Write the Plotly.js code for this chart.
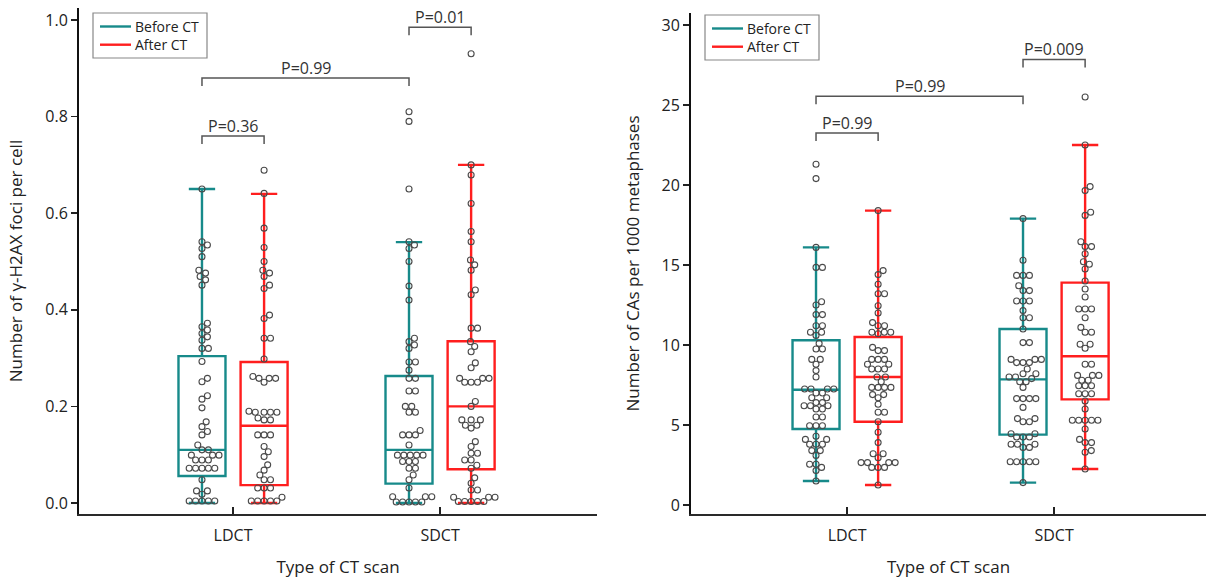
<!DOCTYPE html>
<html>
<head>
<meta charset="utf-8">
<script src="https://cdn.plot.ly/plotly-3.0.1.min.js"></script>
<style>html,body{margin:0;padding:0;background:#fff}#chart{width:1208px;height:583px}</style>
</head>
<body>
<div id="chart"></div>
<script>
// ---------------- DATA ----------------
const categories = ['LDCT', 'SDCT'];
const seriesNames = ['Before CT', 'After CT'];

// Left panel: γ-H2AX foci per cell (box statistics, per category LDCT, SDCT)
const gammaBeforeQ1 = [0.056, 0.040];
const gammaBeforeMedian = [0.110, 0.110];
const gammaBeforeQ3 = [0.304, 0.263];
const gammaBeforeLower = [0.0, 0.0];
const gammaBeforeUpper = [0.650, 0.540];
const gammaAfterQ1 = [0.037, 0.070];
const gammaAfterMedian = [0.160, 0.200];
const gammaAfterQ3 = [0.292, 0.335];
const gammaAfterLower = [0.0, 0.0];
const gammaAfterUpper = [0.640, 0.700];

// Left panel individual values
const gammaLdctBefore = [0.65, 0.541, 0.534, 0.527, 0.51, 0.482, 0.476, 0.469, 0.462, 0.451,
  0.372, 0.365, 0.358, 0.351, 0.344, 0.337, 0.32, 0.32, 0.293, 0.258, 0.251, 0.222, 0.215,
  0.197, 0.168, 0.158, 0.148, 0.141, 0.12, 0.11, 0.11, 0.099, 0.099, 0.099, 0.089, 0.089, 0.089,
  0.072, 0.072, 0.072, 0.072, 0.072, 0.048, 0.025, 0.025, 0.018, 0.004, 0.004, 0.004, 0.004, 0.004];
const gammaLdctAfter = [0.689, 0.641, 0.569, 0.529, 0.5, 0.482, 0.476, 0.469, 0.451, 0.444,
  0.389, 0.382, 0.341, 0.341, 0.298, 0.262, 0.258, 0.258, 0.258, 0.25, 0.19, 0.188, 0.188, 0.188,
  0.188, 0.176, 0.172, 0.172, 0.141, 0.141, 0.141, 0.117, 0.106, 0.096, 0.079, 0.068, 0.058,
  0.048, 0.048, 0.031, 0.031, 0.031, 0.012, 0.004, 0.004, 0.004, 0.004, 0.004];
const gammaSdctBefore = [0.81, 0.79, 0.65, 0.541, 0.534, 0.527, 0.5, 0.449, 0.42, 0.341, 0.334,
  0.327, 0.32, 0.292, 0.292, 0.275, 0.258, 0.258, 0.232, 0.232, 0.2, 0.2, 0.188, 0.188, 0.15,
  0.141, 0.141, 0.141, 0.12, 0.099, 0.099, 0.099, 0.099, 0.099, 0.086, 0.086, 0.086, 0.072,
  0.072, 0.058, 0.048, 0.031, 0.013, 0.013, 0.013, 0.002, 0.002, 0.002, 0.002, 0.002];
const gammaSdctAfter = [0.93, 0.70, 0.679, 0.62, 0.562, 0.541, 0.503, 0.493, 0.482, 0.441, 0.431,
  0.362, 0.362, 0.334, 0.324, 0.313, 0.29, 0.28, 0.258, 0.258, 0.258, 0.25, 0.25, 0.25, 0.21,
  0.2, 0.172, 0.172, 0.172, 0.161, 0.161, 0.155, 0.127, 0.117, 0.103, 0.103, 0.089, 0.089,
  0.078, 0.072, 0.052, 0.041, 0.027, 0.027, 0.012, 0.012, 0.012, 0.003, 0.003, 0.003, 0.003, 0.003];

// Right panel: CAs per 1000 metaphases (box statistics, per category LDCT, SDCT)
const caBeforeQ1 = [4.75, 4.4];
const caBeforeMedian = [7.2, 7.85];
const caBeforeQ3 = [10.3, 11.0];
const caBeforeLower = [1.5, 1.4];
const caBeforeUpper = [16.1, 17.9];
const caAfterQ1 = [5.2, 6.6];
const caAfterMedian = [8.0, 9.3];
const caAfterQ3 = [10.5, 13.9];
const caAfterLower = [1.25, 2.25];
const caAfterUpper = [18.4, 22.5];

// Right panel individual values
const caLdctBefore = [21.3, 20.4, 16.1, 14.85, 14.85, 12.7, 12.5, 11.9, 11.9, 11.2, 11.2, 10.8,
  10.8, 10.6, 10.1, 9.75, 9.75, 9.1, 9.1, 8.8, 8.4, 8.0, 7.25, 7.25, 7.25, 7.25, 7.0, 7.0, 6.7,
  6.7, 6.4, 6.4, 6.2, 6.2, 6.2, 6.0, 6.0, 5.5, 5.5, 4.95, 4.95, 4.95, 4.3, 4.1, 4.1, 3.8, 3.8,
  3.8, 3.4, 3.4, 3.1, 2.55, 2.55, 2.35, 2.15, 1.5];
const caLdctAfter = [18.4, 14.65, 14.4, 13.8, 13.2, 13.2, 12.45, 12.0, 11.4, 11.2, 11.2, 10.8,
  10.8, 10.8, 10.7, 9.85, 9.65, 9.65, 9.1, 9.1, 9.1, 8.8, 8.8, 8.5, 8.5, 8.5, 8.0, 8.0, 7.7,
  7.35, 7.35, 7.35, 7.35, 6.9, 6.9, 6.7, 6.3, 5.8, 5.8, 5.2, 4.55, 3.9, 3.2, 3.2, 2.95, 2.65,
  2.65, 2.65, 2.65, 2.35, 2.35, 2.35, 1.25];
const caSdctBefore = [17.9, 15.3, 14.35, 14.35, 14.35, 13.7, 13.4, 13.4, 12.75, 12.75, 12.75,
  12.15, 11.7, 11.7, 11.0, 10.15, 10.15, 9.1, 9.1, 9.1, 8.9, 8.9, 8.9, 8.5, 8.2, 8.2, 8.0, 8.0,
  7.9, 7.7, 7.7, 7.35, 6.65, 6.65, 6.65, 6.65, 6.1, 5.4, 5.4, 5.2, 5.2, 4.45, 4.45, 4.25, 4.25,
  4.25, 3.8, 3.8, 3.8, 3.6, 3.6, 2.7, 2.7, 2.7, 2.7, 2.7, 1.4];
const caSdctAfter = [25.5, 22.5, 19.9, 19.65, 18.3, 18.1, 16.45, 16.15, 16.15, 15.7, 15.2, 15.05,
  14.75, 14.0, 13.5, 13.0, 12.25, 12.25, 12.25, 11.7, 11.1, 10.8, 10.8, 10.05, 10.05, 9.8, 8.8,
  8.8, 8.1, 8.1, 8.1, 7.8, 7.8, 7.45, 7.45, 7.45, 6.95, 6.95, 6.95, 6.5, 6.0, 5.3, 5.3, 5.3,
  5.3, 5.3, 4.75, 4.1, 3.9, 3.9, 3.4, 3.3, 2.25];

// Significance brackets: [category, series] endpoints, level and label
const gammaBracketLabels = ['P=0.36', 'P=0.99', 'P=0.01'];
const gammaBracketStart = [[0, 0], [0, 0], [1, 0]];
const gammaBracketEnd = [[0, 1], [1, 0], [1, 1]];
const gammaBracketLevels = [0.760, 0.880, 0.985];
const caBracketLabels = ['P=0.99', 'P=0.99', 'P=0.009'];
const caBracketStart = [[0, 0], [0, 0], [1, 0]];
const caBracketEnd = [[0, 1], [1, 0], [1, 1]];
const caBracketLevels = [23.25, 25.55, 27.85];

const gammaYTicks = [0, 0.2, 0.4, 0.6, 0.8, 1.0];
const caYTicks = [0, 5, 10, 15, 20, 25, 30];

// ---------------- LAYOUT CONSTANTS ----------------
const W = 1208, H = 583;
const MARGIN = {l: 79, r: 2, t: 8, b: 69};
const PW = W - MARGIN.l - MARGIN.r;
const PH = H - MARGIN.t - MARGIN.b;
const X1_DOMAIN = [0, 518 / PW];
const X2_DOMAIN = [612 / PW, 1];
const X1_RANGE = [-0.744, 1.758];
const X2_RANGE = [-0.754, 1.734];
const Y1_DOMAIN = [0, 1];
const Y2_DOMAIN = [0, 501 / 506];
const Y1_RANGE = [-0.0228, 1.0248];
const Y2_RANGE = [-0.5625, 30.75];
const OFFSET = 0.15;
const BOX_W = 0.227;
const TEAL = '#178a8a';
const RED = '#ff1e1e';
const DOT = '#4a4a4a';
const FONT = 'Open Sans, Noto Sans, sans-serif';
const DOT_SIZE = 6;
const SWARM_D = 6.4;
const SERIES_COLORS = [TEAL, RED];

function pxPer(range, domain, len) {
  return (domain[1] - domain[0]) * len / (range[1] - range[0]);
}
const px1x = pxPer(X1_RANGE, X1_DOMAIN, PW), px1y = pxPer(Y1_RANGE, Y1_DOMAIN, PH);
const px2x = pxPer(X2_RANGE, X2_DOMAIN, PW), px2y = pxPer(Y2_RANGE, Y2_DOMAIN, PH);

function pos(ci, si) { return ci + (si === 0 ? -OFFSET : OFFSET); }

function swarm(values, center, pxX, pxY, d) {
  const idx = values.map((v, i) => i).sort((a, b) => values[a] - values[b]);
  const placed = [];
  const xs = new Array(values.length);
  for (const i of idx) {
    const y = values[i] * pxY;
    const near = placed.filter(p => Math.abs(p.y - y) < d);
    const cands = [0];
    near.forEach(p => {
      const dx = Math.sqrt(Math.max(0, d * d - (p.y - y) * (p.y - y)));
      cands.push(p.x + dx, p.x - dx);
    });
    cands.sort((a, b) => Math.abs(a) - Math.abs(b));
    let best = 0;
    for (const c of cands) {
      if (near.every(p => (p.x - c) * (p.x - c) + (p.y - y) * (p.y - y) >= d * d - 1e-6)) { best = c; break; }
    }
    placed.push({x: best, y: y});
    xs[i] = center + best / pxX;
  }
  return xs;
}

function boxTrace(xa, ya, si, q1, med, q3, lo, hi) {
  return {
    type: 'box', xaxis: xa, yaxis: ya,
    x: categories.map((c, ci) => pos(ci, si)),
    q1: q1, median: med, q3: q3, lowerfence: lo, upperfence: hi,
    width: BOX_W, whiskerwidth: 0.56, boxpoints: false,
    fillcolor: 'rgba(0,0,0,0)',
    line: {color: SERIES_COLORS[si], width: 2.4},
    showlegend: false, hoverinfo: 'skip', name: seriesNames[si]
  };
}

function dotTrace(xa, ya, values, ci, si, pxX, pxY) {
  return {
    type: 'scatter', mode: 'markers', xaxis: xa, yaxis: ya,
    x: swarm(values, pos(ci, si), pxX, pxY, SWARM_D), y: values,
    marker: {symbol: 'circle-open', size: DOT_SIZE, color: DOT, line: {width: 1.1, color: DOT}},
    showlegend: false, hoverinfo: 'skip'
  };
}

const traces = [
  boxTrace('x', 'y', 0, gammaBeforeQ1, gammaBeforeMedian, gammaBeforeQ3, gammaBeforeLower, gammaBeforeUpper),
  boxTrace('x', 'y', 1, gammaAfterQ1, gammaAfterMedian, gammaAfterQ3, gammaAfterLower, gammaAfterUpper),
  boxTrace('x2', 'y2', 0, caBeforeQ1, caBeforeMedian, caBeforeQ3, caBeforeLower, caBeforeUpper),
  boxTrace('x2', 'y2', 1, caAfterQ1, caAfterMedian, caAfterQ3, caAfterLower, caAfterUpper),
  dotTrace('x', 'y', gammaLdctBefore, 0, 0, px1x, px1y),
  dotTrace('x', 'y', gammaLdctAfter, 0, 1, px1x, px1y),
  dotTrace('x', 'y', gammaSdctBefore, 1, 0, px1x, px1y),
  dotTrace('x', 'y', gammaSdctAfter, 1, 1, px1x, px1y),
  dotTrace('x2', 'y2', caLdctBefore, 0, 0, px2x, px2y),
  dotTrace('x2', 'y2', caLdctAfter, 0, 1, px2x, px2y),
  dotTrace('x2', 'y2', caSdctBefore, 1, 0, px2x, px2y),
  dotTrace('x2', 'y2', caSdctAfter, 1, 1, px2x, px2y)
];

const shapes = [], annotations = [];
function addBrackets(xr, yr, labels, starts, ends, levels, pxY) {
  const leg = 8 / pxY;
  labels.forEach((lab, i) => {
    const xa = pos(starts[i][0], starts[i][1]);
    const xb = pos(ends[i][0], ends[i][1]);
    const lv = levels[i];
    shapes.push({
      type: 'path', xref: xr, yref: yr,
      path: `M ${xa},${lv - leg} L ${xa},${lv} L ${xb},${lv} L ${xb},${lv - leg}`,
      line: {color: '#555', width: 1.5}
    });
    annotations.push({
      xref: xr, yref: yr, x: (xa + xb) / 2, y: lv, yanchor: 'bottom', yshift: -3,
      text: lab, showarrow: false, font: {family: FONT, size: 16, color: '#333'}
    });
  });
}
addBrackets('x', 'y', gammaBracketLabels, gammaBracketStart, gammaBracketEnd, gammaBracketLevels, px1y);
addBrackets('x2', 'y2', caBracketLabels, caBracketStart, caBracketEnd, caBracketLevels, px2y);

// Legend key drawn as a framed box (pixel placement converted to paper coords)
function px2paperX(px) { return (px - MARGIN.l) / PW; }
function px2paperY(py) { return 1 - (py - MARGIN.t) / PH; }
function addLegend(left, top) {
  const ROW1 = 13.5, ROW_GAP = 18.2;
  shapes.push({
    type: 'rect', xref: 'paper', yref: 'paper',
    x0: px2paperX(left), x1: px2paperX(left + 114), y0: px2paperY(top), y1: px2paperY(top + 45),
    line: {color: '#888', width: 1.2}, fillcolor: '#fff', layer: 'above'
  });
  seriesNames.forEach((nm, si) => {
    const ry = top + ROW1 + si * ROW_GAP;
    shapes.push({
      type: 'line', xref: 'paper', yref: 'paper',
      x0: px2paperX(left + 7), x1: px2paperX(left + 38), y0: px2paperY(ry), y1: px2paperY(ry),
      line: {color: SERIES_COLORS[si], width: 2.4}, layer: 'above'
    });
  });
  annotations.push({
    xref: 'paper', yref: 'paper', x: px2paperX(left + 41), y: px2paperY(top + ROW1 + ROW_GAP / 2),
    xanchor: 'left', yanchor: 'middle', align: 'left', borderpad: 0,
    text: seriesNames.join('<br>'), showarrow: false,
    font: {family: FONT, size: 14, color: '#222'}
  });
}
addLegend(93, 13);
addLegend(705, 15);

const xCommon = {
  tickvals: [0, 1], ticktext: categories, ticks: 'inside', ticklen: 7, tickwidth: 1.5,
  tickcolor: '#222', showline: true, linecolor: '#2a2a2a', linewidth: 2, showgrid: false,
  zeroline: false, tickfont: {family: FONT, size: 16, color: '#222'}, ticklabelstandoff: 6,
  fixedrange: true
};
const yCommon = {
  ticks: 'outside', ticklen: 6, tickwidth: 1.5, tickcolor: '#222', showline: true,
  linecolor: '#111', linewidth: 2, showgrid: false, zeroline: false,
  tickfont: {family: FONT, size: 16, color: '#222'}, fixedrange: true
};

const layout = {
  width: W, height: H, margin: MARGIN, paper_bgcolor: '#fff', plot_bgcolor: '#fff',
  font: {family: FONT, color: '#222'},
  xaxis: Object.assign({}, xCommon, {domain: X1_DOMAIN, range: X1_RANGE, anchor: 'y',
    title: {text: 'Type of CT scan', font: {family: FONT, size: 17, color: '#222'}, standoff: 16}}),
  xaxis2: Object.assign({}, xCommon, {domain: X2_DOMAIN, range: X2_RANGE, anchor: 'y2',
    title: {text: 'Type of CT scan', font: {family: FONT, size: 17, color: '#222'}, standoff: 16}}),
  yaxis: Object.assign({}, yCommon, {domain: Y1_DOMAIN, range: Y1_RANGE, anchor: 'x',
    tickvals: gammaYTicks, tickformat: '.1f',
    title: {text: 'Number of γ-H2AX foci per cell', font: {family: FONT, size: 17, color: '#222'}, standoff: 18}}),
  yaxis2: Object.assign({}, yCommon, {domain: Y2_DOMAIN, range: Y2_RANGE, anchor: 'x2',
    tickvals: caYTicks,
    title: {text: 'Number of CAs per 1000 metaphases', font: {family: FONT, size: 17, color: '#222'}, standoff: 18}}),
  shapes: shapes, annotations: annotations,
  showlegend: false, hovermode: false
};

Plotly.newPlot('chart', traces, layout, {displayModeBar: false, staticPlot: true});
</script>
</body>
</html>
